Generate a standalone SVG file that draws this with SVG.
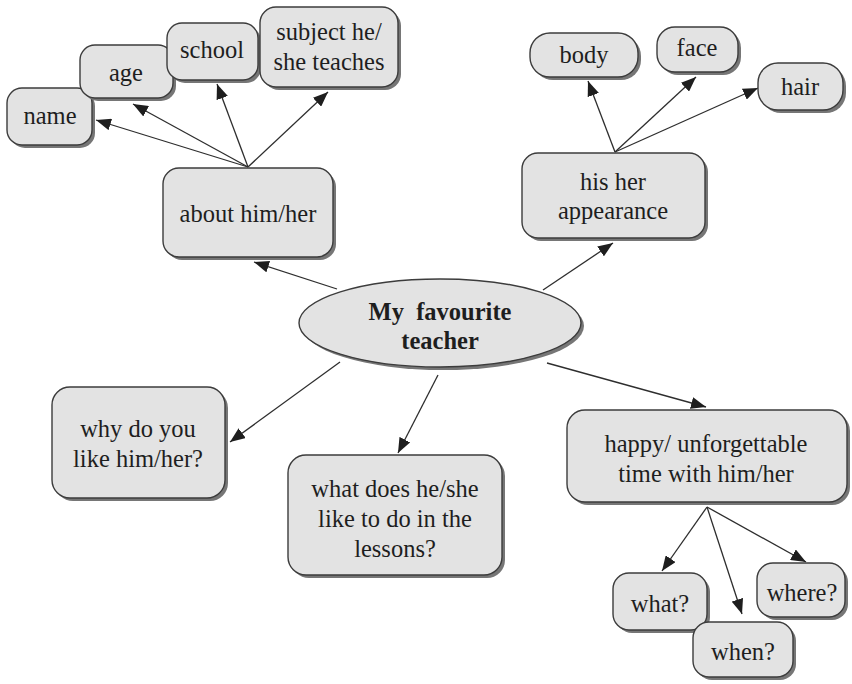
<svg xmlns="http://www.w3.org/2000/svg" width="852" height="684" viewBox="0 0 852 684">
  <style>
    .shadow { fill: #767676; stroke: none; }
    .box { fill: #e3e3e3; stroke: #3c3c3c; stroke-width: 1.4; }
    text { font-family: "Liberation Serif", "Times New Roman", serif; font-size: 24.5px; fill: #1e1e1e; text-anchor: middle; }
    .title { font-weight: bold; }
    .edge { stroke: #2e2e2e; stroke-width: 1.3; fill: none; marker-end: url(#head); }
  </style>
  <defs>
    <marker id="head" markerUnits="userSpaceOnUse" markerWidth="16" markerHeight="12" refX="15" refY="6" orient="auto">
      <path d="M0,0 L15,6 L0,12 z" fill="#1e1e1e"/>
    </marker>
  </defs>
  <rect width="852" height="684" fill="#ffffff"/>

  <!-- connectors -->
  <g id="connectors">
    <line class="edge" x1="248" y1="167" x2="96" y2="120"/>
    <line class="edge" x1="248" y1="167" x2="133" y2="104"/>
    <line class="edge" x1="248" y1="167" x2="217" y2="84"/>
    <line class="edge" x1="248" y1="167" x2="328" y2="92"/>
    <line class="edge" x1="615" y1="152" x2="588" y2="81"/>
    <line class="edge" x1="615" y1="152" x2="696" y2="77"/>
    <line class="edge" x1="615" y1="152" x2="758" y2="88"/>
    <line class="edge" x1="337" y1="289" x2="254" y2="262"/>
    <line class="edge" x1="543" y1="290" x2="613" y2="243"/>
    <line class="edge" x1="340" y1="362" x2="230" y2="442"/>
    <line class="edge" x1="438" y1="375" x2="398" y2="453"/>
    <line class="edge" x1="547" y1="363" x2="706" y2="407"/>
    <line class="edge" x1="707" y1="507" x2="662" y2="571"/>
    <line class="edge" x1="707" y1="507" x2="742" y2="614"/>
    <line class="edge" x1="707" y1="507" x2="806" y2="562"/>
  </g>

  <!-- central topic -->
  <g id="topic">
    <ellipse class="shadow" cx="443" cy="326" rx="141" ry="44"/>
    <ellipse class="box" cx="440" cy="323" rx="141" ry="44"/>
    <text class="title" x="440" y="320" xml:space="preserve">My  favourite</text>
    <text class="title" x="440" y="349">teacher</text>
  </g>

  <g id="about">
    <rect class="shadow" x="166" y="171" width="170" height="89" rx="16"/>
    <rect class="box" x="163" y="168" width="170" height="89" rx="16"/>
    <text x="248" y="222">about him/her</text>
  </g>

  <g id="name">
    <rect class="shadow" x="10" y="91" width="85" height="57" rx="15"/>
    <rect class="box" x="7" y="88" width="85" height="57" rx="15"/>
    <text x="50" y="124">name</text>
  </g>

  <g id="age">
    <rect class="shadow" x="83" y="48" width="93" height="53" rx="15"/>
    <rect class="box" x="80" y="45" width="93" height="53" rx="15"/>
    <text x="126" y="81">age</text>
  </g>

  <g id="school">
    <rect class="shadow" x="170" y="26" width="91" height="57" rx="15"/>
    <rect class="box" x="167" y="23" width="91" height="57" rx="15"/>
    <text x="212" y="58">school</text>
  </g>

  <g id="subject">
    <rect class="shadow" x="263" y="10" width="138" height="80" rx="16"/>
    <rect class="box" x="260" y="7" width="138" height="80" rx="16"/>
    <text x="329" y="40">subject he/</text>
    <text x="329" y="70">she teaches</text>
  </g>

  <g id="appearance">
    <rect class="shadow" x="525" y="156" width="183" height="85" rx="16"/>
    <rect class="box" x="522" y="153" width="183" height="85" rx="16"/>
    <text x="613" y="190">his her</text>
    <text x="613" y="219">appearance</text>
  </g>

  <g id="body">
    <rect class="shadow" x="533" y="36" width="108" height="44" rx="20"/>
    <rect class="box" x="530" y="33" width="108" height="44" rx="20"/>
    <text x="584" y="63">body</text>
  </g>

  <g id="face">
    <rect class="shadow" x="660" y="30" width="81" height="45" rx="18"/>
    <rect class="box" x="657" y="27" width="81" height="45" rx="18"/>
    <text x="697" y="56">face</text>
  </g>

  <g id="hair">
    <rect class="shadow" x="761" y="66" width="85" height="47" rx="20"/>
    <rect class="box" x="758" y="63" width="85" height="47" rx="20"/>
    <text x="800" y="95">hair</text>
  </g>

  <g id="why">
    <rect class="shadow" x="55" y="390" width="173" height="111" rx="18"/>
    <rect class="box" x="52" y="387" width="173" height="111" rx="18"/>
    <text x="138" y="437">why do you</text>
    <text x="138" y="467">like him/her?</text>
  </g>

  <g id="lessons">
    <rect class="shadow" x="291" y="458" width="214" height="120" rx="18"/>
    <rect class="box" x="288" y="455" width="214" height="120" rx="18"/>
    <text x="395" y="497">what does he/she</text>
    <text x="395" y="527">like to do in the</text>
    <text x="395" y="557">lessons?</text>
  </g>

  <g id="happy">
    <rect class="shadow" x="570" y="413" width="280" height="92" rx="18"/>
    <rect class="box" x="567" y="410" width="280" height="92" rx="18"/>
    <text x="706" y="452">happy/ unforgettable</text>
    <text x="706" y="482">time with him/her</text>
  </g>

  <g id="what">
    <rect class="shadow" x="616" y="576" width="94" height="57" rx="16"/>
    <rect class="box" x="613" y="573" width="94" height="57" rx="16"/>
    <text x="660" y="612">what?</text>
  </g>

  <g id="where">
    <rect class="shadow" x="760" y="566" width="88" height="54" rx="16"/>
    <rect class="box" x="757" y="563" width="88" height="54" rx="16"/>
    <text x="802" y="601">where?</text>
  </g>

  <g id="when">
    <rect class="shadow" x="696" y="625" width="100" height="55" rx="16"/>
    <rect class="box" x="693" y="622" width="100" height="55" rx="16"/>
    <text x="743" y="660">when?</text>
  </g>
</svg>
